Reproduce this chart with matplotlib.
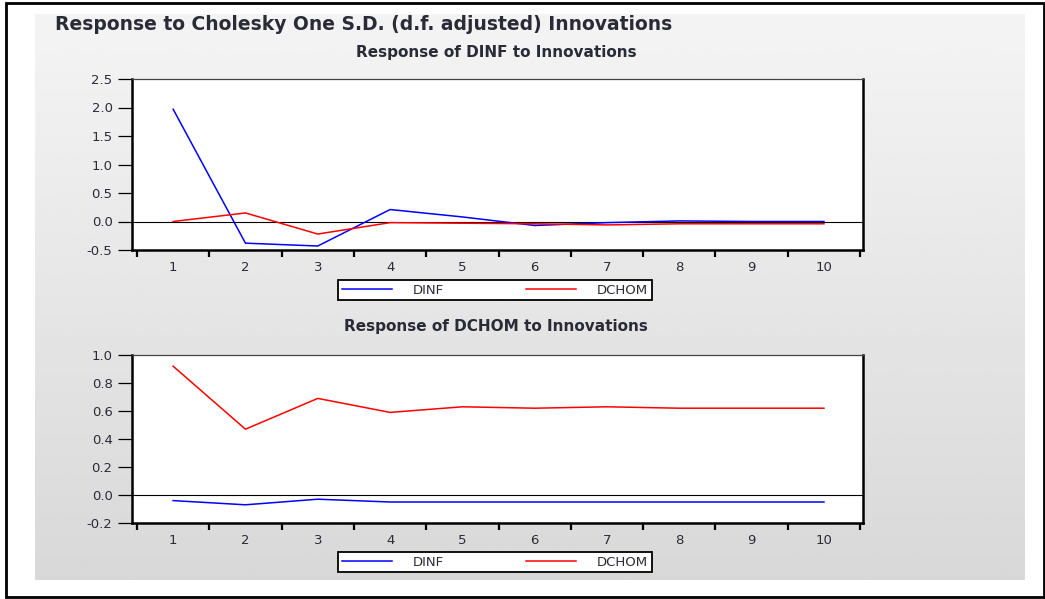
import numpy as np
import matplotlib
matplotlib.use("Agg")
import matplotlib.pyplot as plt
from matplotlib.patches import Rectangle
from matplotlib.ticker import FixedLocator, NullFormatter

# ---------------- data ----------------
periods = [1, 2, 3, 4, 5, 6, 7, 8, 9, 10]
series_names = ["DINF", "DCHOM"]

# Response of DINF
dinf_to_dinf = [1.97, -0.38, -0.43, 0.21, 0.08, -0.07, -0.02, 0.01, 0.00, 0.00]
dinf_to_dchom = [0.00, 0.15, -0.22, -0.02, -0.03, -0.04, -0.06, -0.04, -0.04, -0.04]

# Response of DCHOM
dchom_to_dinf = [-0.04, -0.07, -0.03, -0.05, -0.05, -0.05, -0.05, -0.05, -0.05, -0.05]
dchom_to_dchom = [0.92, 0.47, 0.69, 0.59, 0.63, 0.62, 0.63, 0.62, 0.62, 0.62]

yticks_top = [-0.5, 0.0, 0.5, 1.0, 1.5, 2.0, 2.5]
yticks_bot = [-0.2, 0.0, 0.2, 0.4, 0.6, 0.8, 1.0]

main_title = "Response to Cholesky One S.D. (d.f. adjusted) Innovations"
sub_titles = ["Response of DINF to Innovations", "Response of DCHOM to Innovations"]

# ---------------- style ----------------
W, H = 1045, 599
plt.rcParams['font.family'] = ['DejaVu Sans']
TXT = '#2b2b38'
BLUE = '#0000ff'
RED = '#ff0000'

fig = plt.figure(figsize=(W / 100, H / 100), dpi=100)
fig.patch.set_facecolor('white')

def fx(px):
    return px / W

def fy(py):
    return 1 - py / H

# outer black border
fig.patches.append(Rectangle((fx(6), fy(597)), fx(1044) - fx(6), fy(3) - fy(597),
                             transform=fig.transFigure, fill=False,
                             edgecolor='black', linewidth=2, zorder=0))

# gray gradient panel
bg = fig.add_axes([fx(35), fy(580), fx(1025) - fx(35), fy(14) - fy(580)], zorder=-5)
grad = np.linspace(0xf4, 0xd8, 256)[:, None] / 255.0
bg.imshow(np.repeat(grad, 2, axis=1), cmap='gray', vmin=0, vmax=1,
          aspect='auto', extent=[0, 1, 0, 1], interpolation='bilinear')
bg.set_axis_off()

# titles
fig.text(fx(55), fy(24), main_title, ha='left', va='center',
         fontsize=13.5, color=TXT, fontweight='bold')
fig.text(fx(496), fy(52), sub_titles[0], ha='center', va='center',
         fontsize=11, color=TXT, fontweight='bold')
fig.text(fx(496), fy(327), sub_titles[1], ha='center', va='center',
         fontsize=11, color=TXT, fontweight='bold')

def make_panel(rect_px, yticks, s1, s2, legend_center_px):
    l, r, t, b = rect_px
    ax = fig.add_axes([fx(l), fy(b), fx(r) - fx(l), fy(t) - fy(b)])
    ax.set_facecolor('white')
    ax.plot(periods, s1, color=BLUE, lw=1.1, label=series_names[0], zorder=3)
    ax.plot(periods, s2, color=RED, lw=1.1, label=series_names[1], zorder=3)
    ax.axhline(0, color='black', lw=0.8, zorder=2)
    ax.set_ylim(yticks[0], yticks[-1])
    ax.set_xlim(0.431, 10.54)
    ax.set_yticks(yticks)
    ax.set_yticklabels([f"{v:.1f}" for v in yticks])
    ax.tick_params(axis='y', direction='out', length=10, width=0.9, pad=4,
                   labelsize=9.5, labelcolor=TXT)
    # boundary ticks (major, unlabeled), centered labels (minor, no marks)
    ax.xaxis.set_major_locator(FixedLocator([p - 0.5 for p in periods] + [periods[-1] + 0.5]))
    ax.xaxis.set_major_formatter(NullFormatter())
    ax.xaxis.set_minor_locator(FixedLocator(periods))
    ax.set_xticks(periods, labels=[str(p) for p in periods], minor=True)
    ax.tick_params(axis='x', which='major', direction='out', length=5, width=1.6)
    ax.tick_params(axis='x', which='minor', length=0, pad=8, labelsize=9.5, labelcolor=TXT)
    for side in ['left', 'bottom', 'right']:
        ax.spines[side].set_linewidth(1.8)
        ax.spines[side].set_color('black')
    ax.spines['top'].set_linewidth(0.9)
    ax.spines['top'].set_color('#444444')
    cx, cy = legend_center_px
    leg = ax.legend(loc='center', bbox_to_anchor=(fx(cx), fy(cy)),
                    bbox_transform=fig.transFigure, ncol=2, frameon=True,
                    fancybox=False, fontsize=9.5, handlelength=3.8,
                    handletextpad=1.6, columnspacing=6.2, borderpad=0.3,
                    labelcolor=TXT)
    leg.get_frame().set_edgecolor('black')
    leg.get_frame().set_linewidth(1.3)
    leg.get_frame().set_facecolor('white')
    leg.get_frame().set_alpha(1)
    return ax

make_panel((132, 863, 79, 250), yticks_top, dinf_to_dinf, dinf_to_dchom, (495, 290))
make_panel((132, 863, 355, 523), yticks_bot, dchom_to_dinf, dchom_to_dchom, (495, 562))

fig.savefig('out.png', dpi=100, facecolor='white')
